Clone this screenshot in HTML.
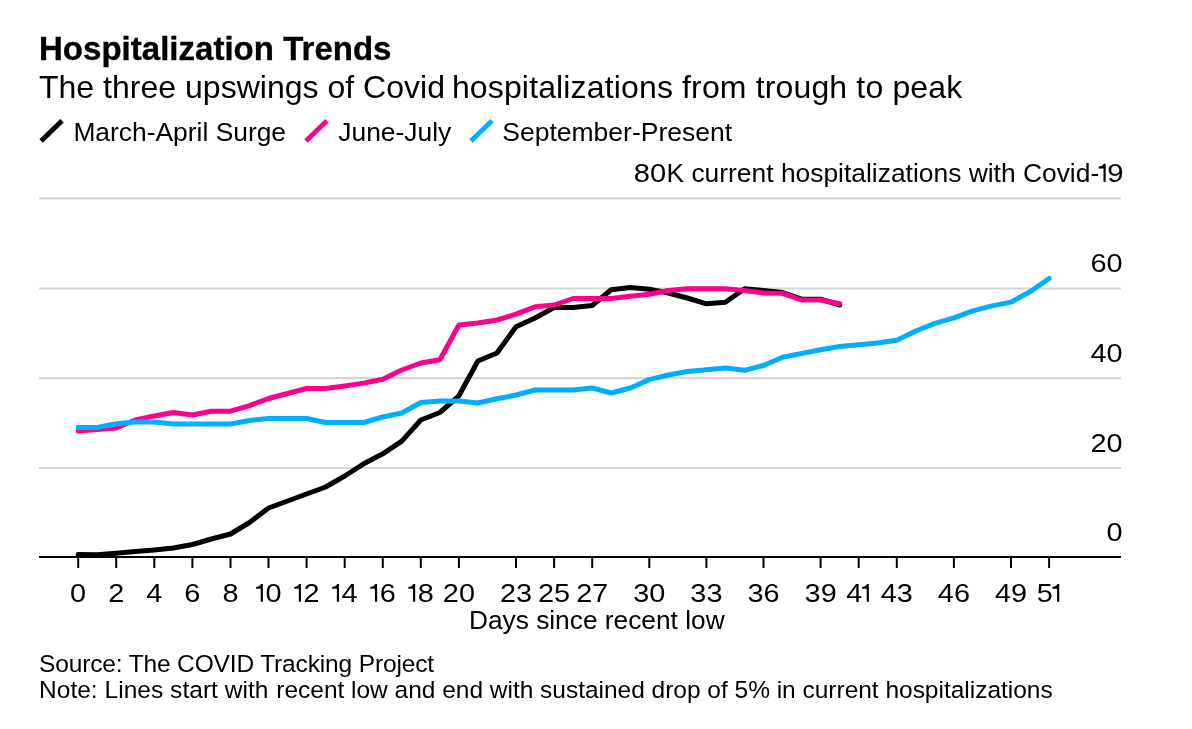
<!DOCTYPE html>
<html><head><meta charset="utf-8"><title>Hospitalization Trends</title>
<style>
html,body{margin:0;padding:0;background:#fff;}
body{width:1192px;height:729px;overflow:hidden;font-family:"Liberation Sans",sans-serif;}
svg{display:block;will-change:transform;}
text{font-family:"Liberation Sans",sans-serif;fill:#000;}
</style></head><body>
<svg width="1192" height="729" viewBox="0 0 1192 729">
<rect width="1192" height="729" fill="#fff"/>
<text x="39" y="60" font-size="33" font-weight="bold" stroke="#000" stroke-width="0.35" letter-spacing="0.02">Hospitalization Trends</text>
<text x="39" y="97.5" font-size="32" letter-spacing="0.015">The three upswings of Covid</text>
<text x="451.9" y="97.5" font-size="32" letter-spacing="0.147">hospitalizations from trough to peak</text>
<line x1="41.1" y1="141.1" x2="62.0" y2="120.7" stroke="#000" stroke-width="4.9"/>
<text x="73.4" y="141" font-size="26.4">March-April Surge</text>
<line x1="306.0" y1="141.1" x2="326.9" y2="120.7" stroke="#ff008c" stroke-width="4.9"/>
<text x="338.3" y="141" font-size="26.4">June-July</text>
<line x1="471.0" y1="141.1" x2="491.9" y2="120.7" stroke="#00adff" stroke-width="4.9"/>
<text x="502.3" y="141" font-size="26.5">September-Present</text>
<text x="1099.2" y="181.6" font-size="26.4" text-anchor="end">K current hospitalizations with Covid-</text>
<text transform="translate(666.2,181.6) scale(1.11,1)" font-size="26.2" text-anchor="end">80</text>
<path transform="translate(1103.50,181.7) scale(1.02)" d="M0.3,-17.65 L2.15,-17.65 L2.15,0 L0,0 L0,-13.05 L-4.63,-13.05 L-4.63,-14.8 Q-0.6,-15.2 0.3,-17.65 Z" fill="#000"/>
<text transform="translate(1115.3,181.6) scale(1.11,1)" font-size="26.4" text-anchor="middle">9</text>
<line x1="39" y1="198.4" x2="1121" y2="198.4" stroke="#d7d7d7" stroke-width="2.1"/>
<line x1="39" y1="288.45" x2="1121" y2="288.45" stroke="#d7d7d7" stroke-width="2.1"/>
<line x1="39" y1="378.1" x2="1121" y2="378.1" stroke="#d7d7d7" stroke-width="2.1"/>
<line x1="39" y1="468.05" x2="1121" y2="468.05" stroke="#d7d7d7" stroke-width="2.1"/>
<text transform="translate(1122.6,271.5) scale(1.11,1)" font-size="26" text-anchor="end">60</text>
<text transform="translate(1122.6,361.5) scale(1.11,1)" font-size="26" text-anchor="end">40</text>
<text transform="translate(1122.6,451.5) scale(1.11,1)" font-size="26" text-anchor="end">20</text>
<text transform="translate(1122.6,541) scale(1.11,1)" font-size="26" text-anchor="end">0</text>
<polyline fill="none" stroke="#000" stroke-width="5" stroke-linejoin="round" stroke-linecap="round" points="78.2,554.6 97.2,554.8 116.2,553.3 135.3,551.6 154.3,550.0 173.3,548.0 192.4,544.5 211.4,539.0 230.5,534.0 249.5,522.5 268.5,508.0 287.6,501.0 306.6,494.0 325.6,487.0 344.7,476.0 363.7,463.8 382.8,453.8 401.8,441.2 420.8,420.0 439.9,412.5 458.9,395.8 477.9,361.0 497.0,353.0 516.0,326.8 535.1,318.0 554.1,307.5 573.1,307.5 592.2,305.5 611.2,289.8 630.3,287.4 649.3,289.3 668.3,293.0 687.4,298.0 706.4,303.8 725.4,302.2 744.5,288.8 763.5,290.5 782.6,292.5 801.6,299.2 820.6,299.2 839.7,305.0"/>
<polyline fill="none" stroke="#ff008c" stroke-width="5" stroke-linejoin="round" stroke-linecap="round" points="78.2,431.0 97.2,429.5 116.2,428.0 135.3,420.0 154.3,416.0 173.3,412.5 192.4,415.0 211.4,411.2 230.5,411.2 249.5,405.6 268.5,398.5 287.6,393.5 306.6,388.5 325.6,388.5 344.7,386.0 363.7,383.1 382.8,379.2 401.8,370.0 420.8,363.0 439.9,359.8 458.9,325.0 477.9,323.0 497.0,320.0 516.0,314.2 535.1,306.8 554.1,305.0 573.1,298.5 592.2,298.5 611.2,298.5 630.3,296.2 649.3,294.2 668.3,290.5 687.4,288.8 706.4,288.8 725.4,288.8 744.5,290.5 763.5,293.0 782.6,293.3 801.6,300.0 820.6,300.0 839.7,303.8"/>
<polyline fill="none" stroke="#00adff" stroke-width="5" stroke-linejoin="round" stroke-linecap="round" points="78.2,427.5 97.2,427.5 116.2,423.8 135.3,422.0 154.3,422.0 173.3,424.0 192.4,424.0 211.4,424.0 230.5,424.0 249.5,420.5 268.5,418.5 287.6,418.5 306.6,418.5 325.6,422.5 344.7,422.5 363.7,422.5 382.8,417.0 401.8,413.0 420.8,402.5 439.9,401.0 458.9,401.0 477.9,403.0 497.0,398.8 516.0,395.0 535.1,390.0 554.1,390.0 573.1,390.0 592.2,388.0 611.2,393.0 630.3,388.0 649.3,379.6 668.3,375.0 687.4,371.5 706.4,369.8 725.4,368.0 744.5,370.3 763.5,365.5 782.6,357.2 801.6,353.5 820.6,349.8 839.7,346.5 858.7,344.8 877.7,343.0 896.8,340.2 915.8,331.0 934.9,323.4 953.9,317.9 972.9,310.9 992.0,305.9 1011.0,302.1 1030.0,291.8 1049.1,278.5"/>
<line x1="39" y1="557" x2="1121" y2="557" stroke="#000" stroke-width="2"/>
<line x1="78.2" y1="557" x2="78.2" y2="568" stroke="#000" stroke-width="2"/>
<text transform="translate(78.15,601.5) scale(1.11,1)" font-size="26" text-anchor="middle">0</text>
<line x1="116.2" y1="557" x2="116.2" y2="568" stroke="#000" stroke-width="2"/>
<text transform="translate(116.23,601.5) scale(1.11,1)" font-size="26" text-anchor="middle">2</text>
<line x1="154.3" y1="557" x2="154.3" y2="568" stroke="#000" stroke-width="2"/>
<text transform="translate(154.30,601.5) scale(1.11,1)" font-size="26" text-anchor="middle">4</text>
<line x1="192.4" y1="557" x2="192.4" y2="568" stroke="#000" stroke-width="2"/>
<text transform="translate(192.38,601.5) scale(1.11,1)" font-size="26" text-anchor="middle">6</text>
<line x1="230.5" y1="557" x2="230.5" y2="568" stroke="#000" stroke-width="2"/>
<text transform="translate(230.45,601.5) scale(1.11,1)" font-size="26" text-anchor="middle">8</text>
<line x1="268.5" y1="557" x2="268.5" y2="568" stroke="#000" stroke-width="2"/>
<path transform="translate(260.73,601.75)" d="M0.3,-17.65 L2.15,-17.65 L2.15,0 L0,0 L0,-13.05 L-4.63,-13.05 L-4.63,-14.8 Q-0.6,-15.2 0.3,-17.65 Z" fill="#000"/>
<text transform="translate(273.48,601.5) scale(1.11,1)" font-size="26" text-anchor="middle">0</text>
<line x1="306.6" y1="557" x2="306.6" y2="568" stroke="#000" stroke-width="2"/>
<path transform="translate(298.81,601.75)" d="M0.3,-17.65 L2.15,-17.65 L2.15,0 L0,0 L0,-13.05 L-4.63,-13.05 L-4.63,-14.8 Q-0.6,-15.2 0.3,-17.65 Z" fill="#000"/>
<text transform="translate(311.56,601.5) scale(1.11,1)" font-size="26" text-anchor="middle">2</text>
<line x1="344.7" y1="557" x2="344.7" y2="568" stroke="#000" stroke-width="2"/>
<path transform="translate(336.88,601.75)" d="M0.3,-17.65 L2.15,-17.65 L2.15,0 L0,0 L0,-13.05 L-4.63,-13.05 L-4.63,-14.8 Q-0.6,-15.2 0.3,-17.65 Z" fill="#000"/>
<text transform="translate(349.63,601.5) scale(1.11,1)" font-size="26" text-anchor="middle">4</text>
<line x1="382.8" y1="557" x2="382.8" y2="568" stroke="#000" stroke-width="2"/>
<path transform="translate(374.96,601.75)" d="M0.3,-17.65 L2.15,-17.65 L2.15,0 L0,0 L0,-13.05 L-4.63,-13.05 L-4.63,-14.8 Q-0.6,-15.2 0.3,-17.65 Z" fill="#000"/>
<text transform="translate(387.71,601.5) scale(1.11,1)" font-size="26" text-anchor="middle">6</text>
<line x1="420.8" y1="557" x2="420.8" y2="568" stroke="#000" stroke-width="2"/>
<path transform="translate(413.03,601.75)" d="M0.3,-17.65 L2.15,-17.65 L2.15,0 L0,0 L0,-13.05 L-4.63,-13.05 L-4.63,-14.8 Q-0.6,-15.2 0.3,-17.65 Z" fill="#000"/>
<text transform="translate(425.78,601.5) scale(1.11,1)" font-size="26" text-anchor="middle">8</text>
<line x1="458.9" y1="557" x2="458.9" y2="568" stroke="#000" stroke-width="2"/>
<text transform="translate(458.91,601.5) scale(1.11,1)" font-size="26" text-anchor="middle">20</text>
<line x1="516.0" y1="557" x2="516.0" y2="568" stroke="#000" stroke-width="2"/>
<text transform="translate(516.02,601.5) scale(1.11,1)" font-size="26" text-anchor="middle">23</text>
<line x1="554.1" y1="557" x2="554.1" y2="568" stroke="#000" stroke-width="2"/>
<text transform="translate(554.10,601.5) scale(1.11,1)" font-size="26" text-anchor="middle">25</text>
<line x1="592.2" y1="557" x2="592.2" y2="568" stroke="#000" stroke-width="2"/>
<text transform="translate(592.18,601.5) scale(1.11,1)" font-size="26" text-anchor="middle">27</text>
<line x1="649.3" y1="557" x2="649.3" y2="568" stroke="#000" stroke-width="2"/>
<text transform="translate(649.29,601.5) scale(1.11,1)" font-size="26" text-anchor="middle">30</text>
<line x1="706.4" y1="557" x2="706.4" y2="568" stroke="#000" stroke-width="2"/>
<text transform="translate(706.40,601.5) scale(1.11,1)" font-size="26" text-anchor="middle">33</text>
<line x1="763.5" y1="557" x2="763.5" y2="568" stroke="#000" stroke-width="2"/>
<text transform="translate(763.52,601.5) scale(1.11,1)" font-size="26" text-anchor="middle">36</text>
<line x1="820.6" y1="557" x2="820.6" y2="568" stroke="#000" stroke-width="2"/>
<text transform="translate(820.63,601.5) scale(1.11,1)" font-size="26" text-anchor="middle">39</text>
<line x1="858.7" y1="557" x2="858.7" y2="568" stroke="#000" stroke-width="2"/>
<path transform="translate(866.71,601.75)" d="M0.3,-17.65 L2.15,-17.65 L2.15,0 L0,0 L0,-13.05 L-4.63,-13.05 L-4.63,-14.8 Q-0.6,-15.2 0.3,-17.65 Z" fill="#000"/>
<text transform="translate(854.31,601.5) scale(1.11,1)" font-size="26" text-anchor="middle">4</text>
<line x1="896.8" y1="557" x2="896.8" y2="568" stroke="#000" stroke-width="2"/>
<text transform="translate(896.78,601.5) scale(1.11,1)" font-size="26" text-anchor="middle">43</text>
<line x1="953.9" y1="557" x2="953.9" y2="568" stroke="#000" stroke-width="2"/>
<text transform="translate(953.90,601.5) scale(1.11,1)" font-size="26" text-anchor="middle">46</text>
<line x1="1011.0" y1="557" x2="1011.0" y2="568" stroke="#000" stroke-width="2"/>
<text transform="translate(1011.01,601.5) scale(1.11,1)" font-size="26" text-anchor="middle">49</text>
<line x1="1049.1" y1="557" x2="1049.1" y2="568" stroke="#000" stroke-width="2"/>
<path transform="translate(1057.09,601.75)" d="M0.3,-17.65 L2.15,-17.65 L2.15,0 L0,0 L0,-13.05 L-4.63,-13.05 L-4.63,-14.8 Q-0.6,-15.2 0.3,-17.65 Z" fill="#000"/>
<text transform="translate(1044.69,601.5) scale(1.11,1)" font-size="26" text-anchor="middle">5</text>
<text x="596.8" y="629" font-size="26.3" text-anchor="middle">Days since recent low</text>
<text x="39" y="671.5" font-size="24.5" letter-spacing="-0.144">Source: The COVID Tracking Project</text>
<text x="39" y="698" font-size="24.5" letter-spacing="0.03">Note: Lines start with</text>
<text x="276.3" y="698" font-size="24.5" letter-spacing="-0.018">recent low and end with sustained drop of 5% in current hospitalizations</text>
</svg></body></html>
